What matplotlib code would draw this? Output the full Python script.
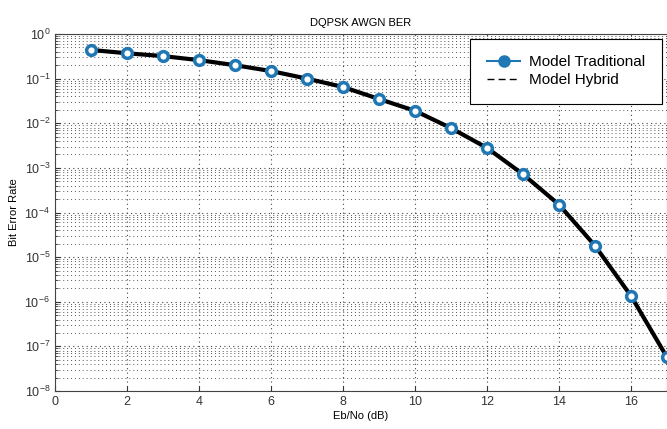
import matplotlib
matplotlib.use("Agg")
import matplotlib.pyplot as plt
from matplotlib.lines import Line2D
import numpy as np

plt.rcParams['font.family'] = ['Liberation Sans', 'DejaVu Sans']

ebno = [1, 2, 3, 4, 5, 6, 7, 8, 9, 10, 11, 12, 13, 14, 15, 16, 17]
ber_traditional = [0.44, 0.37, 0.32, 0.26, 0.20, 0.148, 0.10, 0.065, 0.035,
                   0.019, 0.0078, 0.0028, 7.2e-4, 1.5e-4, 1.8e-5, 1.35e-6, 5.7e-8]
ber_hybrid = list(ber_traditional)

fig = plt.figure(figsize=(6.67, 4.29), dpi=100)
ax = fig.add_axes([0.0825, 0.0886, 0.9175, 0.8321])

ax.semilogy(ebno, ber_hybrid, color='black', linewidth=3, zorder=3)
ax.semilogy(ebno, ber_traditional, linestyle='none', marker='o', markersize=7,
            markeredgewidth=2.5, markeredgecolor='#1f77b4', markerfacecolor='white', zorder=4)

ax.set_xlim(0, 17)
ax.set_ylim(1e-8, 1)
ax.set_xticks(np.arange(0, 17, 2))
ax.set_yticks([10.0 ** k for k in range(-8, 1)])
ax.grid(which='major', linestyle=(0, (1, 3)), color='#444444', linewidth=0.8)
ax.grid(which='minor', axis='y', linestyle=(0, (1, 3)), color='#555555', linewidth=0.7)
ax.tick_params(which='both', direction='in', labelsize=9, colors='#333333')
ax.tick_params(which='minor', length=2)
for s in ax.spines.values():
    s.set_color('#444444')

ax.set_title('DQPSK AWGN BER', fontsize=8, pad=6)
ax.set_xlabel('Eb/No (dB)', fontsize=8, labelpad=2)
ax.set_ylabel('Bit Error Rate', fontsize=8, labelpad=4)

handles = [Line2D([], [], color='#1f77b4', marker='o', markersize=8, linewidth=1.5),
           Line2D([], [], color='black', linestyle=(0, (5, 3)), linewidth=1)]
leg = ax.legend(handles, ['Model Traditional', 'Model Hybrid'], loc='upper right',
                fontsize=11, fancybox=False, framealpha=1, edgecolor='black',
                borderaxespad=0.3, borderpad=1.1, handlelength=2.2,
                handletextpad=0.6, labelspacing=0.25)
leg.get_frame().set_linewidth(0.8)

fig.savefig('out.png', dpi=100)
